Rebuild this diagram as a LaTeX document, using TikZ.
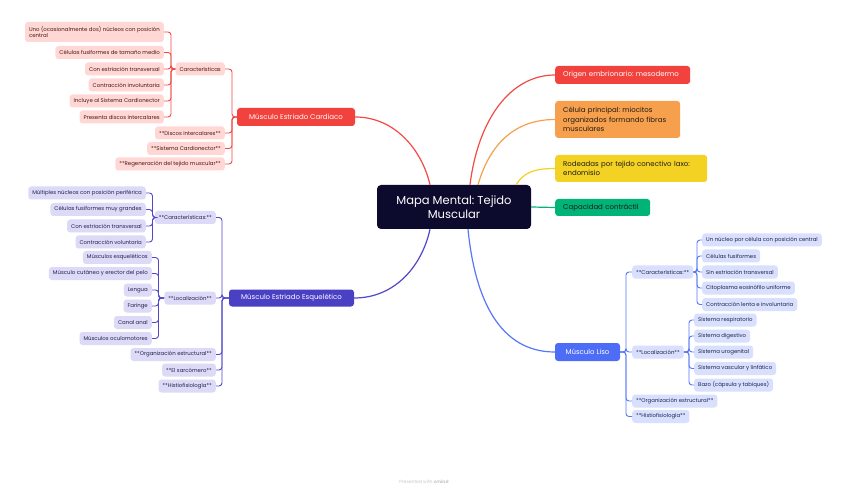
\documentclass[tikz,border=0pt]{standalone}
\usepackage{fontspec}
\setmainfont{Poppins}
\frenchspacing
\usetikzlibrary{calc}
\definecolor{rootc}{HTML}{0C0B2E}
\definecolor{redc}{HTML}{F2423D}
\definecolor{redl}{HTML}{F24A45}
\definecolor{pinkf}{HTML}{FFD8D6}
\definecolor{pinkt}{HTML}{4A1612}
\definecolor{orangec}{HTML}{F6A04D}
\definecolor{yellowc}{HTML}{F3D224}
\definecolor{greenc}{HTML}{00B479}
\definecolor{purplec}{HTML}{4A40C4}
\definecolor{purplel}{HTML}{5248CC}
\definecolor{lavf}{HTML}{DCDAF6}
\definecolor{lavt}{HTML}{25204F}
\definecolor{bluec}{HTML}{4D6DF6}
\definecolor{bluel}{HTML}{5777F8}
\definecolor{bluef}{HTML}{D9E0FD}
\definecolor{bluet}{HTML}{1D2350}
\definecolor{darkt}{HTML}{1E1A14}
\tikzset{
  rootnode/.style={fill=rootc, text=white, rounded corners=4pt, minimum width=154pt, minimum height=44pt, inner sep=0pt, align=center, font=\fontsize{11.5}{14}\selectfont},
  mainnode/.style={rounded corners=3pt, minimum height=18pt, inner xsep=0pt, inner ysep=0pt, text=white, font=\fontsize{7}{9}\selectfont},
  topic/.style={rounded corners=3pt, inner xsep=8pt, inner ysep=0pt, anchor=west, align=left, text=darkt, font=\fontsize{7}{9.5}\selectfont},
  leaf/.style={rounded corners=3pt, minimum height=13pt, inner xsep=4pt, inner ysep=0pt, font=\fontsize{5.4}{6.6}\selectfont},
  pleaf/.style={leaf, fill=pinkf, text=pinkt, anchor=east},
  vleaf/.style={leaf, fill=lavf, text=lavt, anchor=east},
  bleaf/.style={leaf, fill=bluef, text=bluet, anchor=west},
  curve/.style={line width=1.2pt},
  rl/.style={draw=redl, line width=0.9pt, rounded corners=3pt},
  pl/.style={draw=purplel, line width=0.9pt, rounded corners=3pt},
  bl/.style={draw=bluel, line width=0.9pt, rounded corners=3pt},
}
\begin{document}
\begin{tikzpicture}[x=1pt,y=-1pt]
\fill[white] (0,0) rectangle (848,494);
\useasboundingbox (0,0) rectangle (848,494);

% root
\node[rootnode] (root) at (454,207) {Mapa Mental: Tejido\\Muscular};

% right topics
\node[topic, fill=redc, text=white, minimum height=18pt, text width=119pt] (orig) at (555,75) {Origen embrionario: mesodermo};
\node[topic, fill=orangec, minimum height=37pt, text width=109pt] (cel) at (555,119.5) {Célula principal: miocitos\\organizados formando fibras\\musculares};
\node[topic, fill=yellowc, minimum height=27pt, text width=136pt] (rod) at (555,168.5) {Rodeadas por tejido conectivo laxo:\\endomisio};
\node[topic, fill=greenc, minimum height=17pt, text width=79pt] (cap) at (555,207.5) {Capacidad contráctil};

% main branches
\node[mainnode, fill=redc, minimum width=118pt] (card) at (296,117) {Músculo Estriado Cardiaco};
\node[mainnode, fill=purplec, minimum width=125pt, minimum height=17pt] (esq) at (291.5,298) {Músculo Estriado Esquelético};
\node[mainnode, fill=bluec, minimum width=65pt] (liso) at (587.5,352) {Músculo Liso};

% cardiac children
\node[pleaf] (ccar) at (225,69) {Características};
\node[pleaf] (cd1) at (225,133) {**Discos intercalares**};
\node[pleaf] (cd2) at (225,148.5) {**Sistema Cardionector**};
\node[pleaf] (cd3) at (225,164) {**Regeneración del tejido muscular**};
\node[pleaf, minimum height=20pt, align=left] (c1) at (164,32) {Uno (ocasionalmente dos) núcleos con posición\\central};
\node[pleaf] (c2) at (164,52.5) {Células fusiformes de tamaño medio};
\node[pleaf] (c3) at (164,69) {Con estriación transversal};
\node[pleaf] (c4) at (164,85) {Contracción involuntaria};
\node[pleaf] (c5) at (164,101) {Incluye al Sistema Cardionector};
\node[pleaf] (c6) at (164,117) {Presenta discos intercalares};

% skeletal children
\node[vleaf] (ek1) at (216,217.5) {**Características:**};
\node[vleaf] (ek2) at (216,298) {**Localización**};
\node[vleaf] (ek3) at (216,354.5) {**Organización estructural**};
\node[vleaf] (ek4) at (216,370) {**El sarcómero**};
\node[vleaf] (ek5) at (216,386) {**Histiofisiología**};
\node[vleaf] (ea1) at (146,193) {Múltiples núcleos con posición periférica};
\node[vleaf] (ea2) at (146,209.5) {Células fusiformes muy grandes};
\node[vleaf] (ea3) at (146,226) {Con estriación transversal};
\node[vleaf] (ea4) at (146,242) {Contracción voluntaria};
\node[vleaf] (eb1) at (152,257.5) {Músculos esqueléticos};
\node[vleaf] (eb2) at (152,273.5) {Músculo cutáneo y erector del pelo};
\node[vleaf] (eb3) at (152,290) {Lengua};
\node[vleaf] (eb4) at (152,306) {Faringe};
\node[vleaf] (eb5) at (152,322.5) {Canal anal};
\node[vleaf] (eb6) at (152,338.5) {Músculos oculomotores};

% smooth children
\node[bleaf] (lk1) at (632,272) {**Características:**};
\node[bleaf] (lk2) at (632,352) {**Localización**};
\node[bleaf] (lk3) at (632,401) {**Organización estructural**};
\node[bleaf] (lk4) at (632,416.5) {**Histiofisiología**};
\node[bleaf] (la1) at (702,240) {Un núcleo por célula con posición central};
\node[bleaf] (la2) at (702,256) {Células fusiformes};
\node[bleaf] (la3) at (702,272) {Sin estriación transversal};
\node[bleaf] (la4) at (702,288) {Citoplasma eosinófilo uniforme};
\node[bleaf] (la5) at (702,304.5) {Contracción lenta e involuntaria};
\node[bleaf] (lb1) at (694,320) {Sistema respiratorio};
\node[bleaf] (lb2) at (694,336) {Sistema digestivo};
\node[bleaf] (lb3) at (694,352) {Sistema urogenital};
\node[bleaf] (lb4) at (694,368.5) {Sistema vascular y linfático};
\node[bleaf] (lb5) at (694,385) {Bazo (cápsula y tabiques)};

% main curves
\draw[curve, draw=redl] ($(root.north)+(16,0)$) .. controls (478,120) and (510,75) .. (orig.west);
\draw[curve, draw=orangec] ($(root.north)+(24,0)$) .. controls (488,150) and (510,119.5) .. (cel.west);
\draw[curve, draw=yellowc] ($(root.north)+(62,0)$) .. controls (524,172) and (535,168.5) .. (rod.west);
\draw[curve, draw=greenc] (root.east) -- (cap.west);
\draw[curve, draw=redl] ($(root.north)+(-24,0)$) .. controls (422,150) and (395,117) .. (card.east);
\draw[curve, draw=purplel] ($(root.south)+(-24,0)$) .. controls (422,266) and (395,298) .. (esq.east);
\draw[curve, draw=bluel] ($(root.south)+(14,0)$) .. controls (475,300) and (500,352) .. (liso.west);

% bracket coordinates
\coordinate (kcard) at (232,0);
\coordinate (kccar) at (171,0);
\coordinate (kesq) at (222,0);
\coordinate (kea) at (152.5,0);
\coordinate (keb) at (158.5,0);
\coordinate (kliso) at (626,0);
\coordinate (kla) at (697,0);
\coordinate (klb) at (689,0);

\foreach \c in {ccar,cd1,cd2,cd3}
  \draw[rl] (card.west) -- (card.west -| kcard) |- (\c.east);
\foreach \c in {c1,c2,c3,c4,c5,c6}
  \draw[rl] (ccar.west) -- (ccar.west -| kccar) |- (\c.east);
\foreach \c in {ek1,ek2,ek3,ek4,ek5}
  \draw[pl] (esq.west) -- (esq.west -| kesq) |- (\c.east);
\foreach \c in {ea1,ea2,ea3,ea4}
  \draw[pl] (ek1.west) -- (ek1.west -| kea) |- (\c.east);
\foreach \c in {eb1,eb2,eb3,eb4,eb5,eb6}
  \draw[pl] (ek2.west) -- (ek2.west -| keb) |- (\c.east);
\foreach \c in {lk1,lk2,lk3,lk4}
  \draw[bl] (liso.east) -- (liso.east -| kliso) |- (\c.west);
\foreach \c in {la1,la2,la3,la4,la5}
  \draw[bl] (lk1.east) -- (lk1.east -| kla) |- (\c.west);
\foreach \c in {lb1,lb2,lb3,lb4,lb5}
  \draw[bl] (lk2.east) -- (lk2.east -| klb) |- (\c.west);

% watermark
\node[text=black!22, font=\fontsize{4.5}{5}\selectfont] (wm) at (424,482) {Presented with \textbf{xmind}};
\end{tikzpicture}
\end{document}
